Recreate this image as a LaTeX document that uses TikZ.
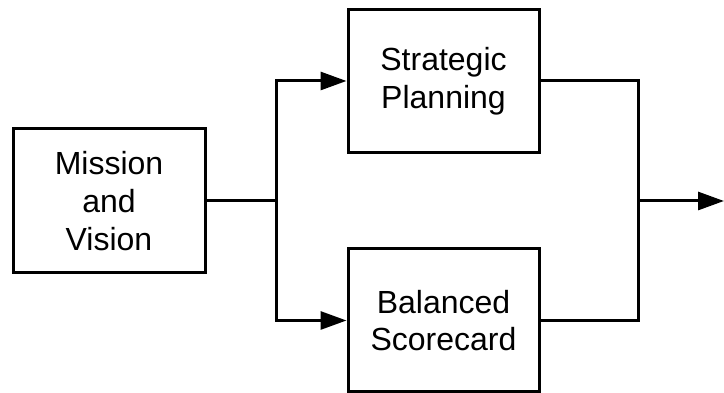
\documentclass[tikz,border=0pt]{standalone}
\usepackage{fontspec}
\setmainfont{Liberation Sans}
\usetikzlibrary{arrows.meta}
\begin{document}
\begin{tikzpicture}[x=1pt,y=1pt,
  block/.style={draw=black, line width=3pt, align=center, inner sep=0pt,
    minimum width=191pt, minimum height=143pt,
    font=\fontsize{32}{37.7}\selectfont},
  wire/.style={line width=3pt, draw=black},
  flow/.style={wire, -{Triangle[length=26pt,width=18pt]}}]
\useasboundingbox (0,0) rectangle (724,393);
% the three blocks
\node[block, minimum width=192pt, minimum height=144pt] (mv) at (109,192) {Mission\\and\\Vision};
\node[block] (sp) at (443.5,312) {Strategic\\Planning};
\node[block] (bs) at (443.5,72.5) {Balanced\\Scorecard};
% branch and merge points
\coordinate (split) at (276.5,192);
\coordinate (merge) at (638,192);
\coordinate (out) at (724,192);
% connectors
\draw[wire] (mv.east) -- (split);
\draw[flow] (split) |- (sp.west);
\draw[flow] (split) |- (bs.west);
\draw[wire] (sp.east) -| (merge);
\draw[wire] (bs.east) -| (merge);
\draw[flow] (merge) -- (out);
\end{tikzpicture}
\end{document}
